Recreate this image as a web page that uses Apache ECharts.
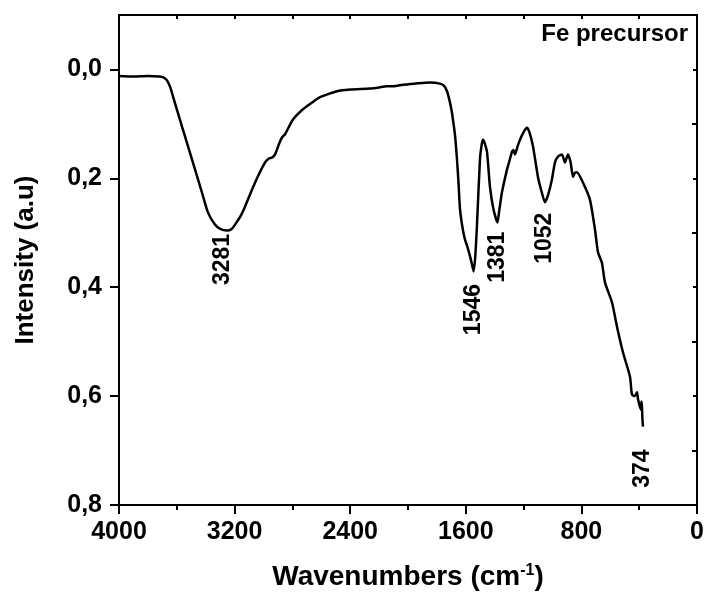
<!DOCTYPE html>
<html>
<head>
<meta charset="utf-8">
<script src="https://cdn.jsdelivr.net/npm/echarts@6/dist/echarts.min.js"></script>
<style>
html,body{margin:0;padding:0;background:#fff;}
#chart{width:707px;height:599px;}
</style>
</head>
<body>
<div id="chart"></div>
<script>
// Wavenumbers (cm-1)
var wavenumbers = [4000,3900,3800,3720,3690,3668,3645,3626,3564,3495,3426,3384,3336,3300,3253,3220,3197,3160,3128,3059,2990,2960,2941,2920,2890,2872,2851,2796,2727,2650,2609,2491,2400,2263,2200,2150,2100,2035,1950,1848,1779,1750,1730,1710,1696,1689,1675,1661,1650,1640,1620,1606,1590,1571,1560,1546,1535,1523,1502,1490,1481,1470,1453,1433,1410,1381,1370,1350,1315,1300,1280,1270,1260,1240,1225,1200,1177,1160,1135,1101,1080,1052,1030,1004,983,962,934,914,893,875,858,845,831,789,741,706,685,658,637,588,554,512,464,450,430,415,408,388,384,381,378,374];
// Intensity (a.u)
var intensity = [0.012,0.013,0.012,0.013,0.015,0.020,0.033,0.050,0.105,0.165,0.226,0.263,0.285,0.293,0.296,0.293,0.285,0.270,0.252,0.208,0.171,0.163,0.162,0.156,0.135,0.125,0.119,0.092,0.073,0.058,0.051,0.040,0.037,0.035,0.033,0.031,0.031,0.028,0.026,0.024,0.026,0.030,0.040,0.060,0.079,0.092,0.120,0.165,0.210,0.257,0.295,0.312,0.325,0.343,0.355,0.371,0.345,0.288,0.165,0.138,0.129,0.135,0.152,0.215,0.255,0.281,0.262,0.226,0.184,0.170,0.151,0.148,0.156,0.140,0.129,0.115,0.107,0.115,0.141,0.197,0.220,0.244,0.230,0.202,0.171,0.160,0.156,0.171,0.156,0.170,0.197,0.190,0.189,0.208,0.239,0.294,0.336,0.355,0.391,0.428,0.472,0.520,0.564,0.597,0.600,0.593,0.606,0.625,0.610,0.619,0.640,0.656];

// Peak annotations
var peakLabels = ['3281','1546','1381','1052','374'];
var peakX = [3281,1546,1381,1052,374];
var peakLabelY = [0.349,0.441,0.345,0.310,0.733];

// Axis ticks
var xTickLabels = [4000,3200,2400,1600,800,0];
var yMajorTicks = [0,0.2,0.4,0.6,0.8];
var yMinorTicks = [0.1,0.3,0.5,0.7];
var yRightTicks = [0,0.1,0.2,0.3,0.4,0.5,0.6,0.7];

var FONT = "'Liberation Sans', Arial, sans-serif";
var lineData = wavenumbers.map(function(w,i){return [w,intensity[i]];});
var peakData = peakX.map(function(w,i){return {value:[w,peakLabelY[i]], name:peakLabels[i]};});

var chart = echarts.init(document.getElementById('chart'), null, {renderer:'canvas'});
var black = '#000';
var option = {
  animation:false,
  backgroundColor:'#fff',
  title:{text:'Fe precursor', right:14, top:17,
    textStyle:{fontFamily:FONT, fontWeight:'bold', fontSize:24, color:black}},
  grid:{left:119, top:15, right:10, bottom:94, containLabel:false},
  xAxis:[{
    type:'value', min:0, max:4000, interval:800, inverse:true, position:'bottom',
    axisLine:{show:true, onZero:false, lineStyle:{color:black, width:2}},
    axisTick:{show:true, length:9, lineStyle:{color:black, width:2}},
    minorTick:{show:true, splitNumber:2, length:5, lineStyle:{color:black, width:2}},
    axisLabel:{fontFamily:FONT, fontWeight:'bold', fontSize:25, color:black, margin:15,
      customValues:xTickLabels, formatter:function(v){return String(v);}},
    splitLine:{show:false}, minorSplitLine:{show:false},
    name:'Wavenumbers (cm{sup|-1})', nameLocation:'middle', nameGap:58,
    nameTextStyle:{fontFamily:FONT, fontWeight:'bold', fontSize:28, color:black,
      rich:{sup:{fontFamily:FONT, fontWeight:'bold', fontSize:16, color:black, verticalAlign:'top', padding:[0,0,12,0]}}}
  },{
    type:'value', min:0, max:4000, interval:400, inverse:true, position:'top',
    axisLine:{show:true, onZero:false, lineStyle:{color:black, width:2}},
    axisTick:{show:true, inside:true, length:4, lineStyle:{color:black, width:2}},
    axisLabel:{show:false}, splitLine:{show:false}
  }],
  yAxis:[{
    type:'value', min:-0.1, max:0.8, interval:0.1, inverse:true, position:'left',
    axisLine:{show:true, onZero:false, lineStyle:{color:black, width:2}},
    axisTick:{show:true, length:9, customValues:yMajorTicks, lineStyle:{color:black, width:2}},
    axisLabel:{fontFamily:FONT, fontWeight:'bold', fontSize:25, color:black, margin:17,
      customValues:yMajorTicks, formatter:function(v){return v.toFixed(1).replace('.',',');}},
    splitLine:{show:false},
    name:'Intensity (a.u)', nameLocation:'middle', nameGap:80,
    nameTextStyle:{fontFamily:FONT, fontWeight:'bold', fontSize:26, color:black}
  },{
    type:'value', min:-0.1, max:0.8, interval:0.1, inverse:true, position:'left',
    axisLine:{show:false},
    axisTick:{show:true, length:5, customValues:yMinorTicks, lineStyle:{color:black, width:2}},
    axisLabel:{show:false}, splitLine:{show:false}
  },{
    type:'value', min:-0.1, max:0.8, interval:0.1, inverse:true, position:'right',
    axisLine:{show:true, onZero:false, lineStyle:{color:black, width:2}},
    axisTick:{show:true, inside:true, length:4, customValues:yRightTicks, lineStyle:{color:black, width:2}},
    axisLabel:{show:false}, splitLine:{show:false}
  }],
  series:[{
    type:'line', xAxisIndex:0, yAxisIndex:0, data:lineData, showSymbol:false, smooth:0.2,
    lineStyle:{color:black, width:2.5}, silent:true
  },{
    type:'scatter', xAxisIndex:0, yAxisIndex:0, data:peakData, symbolSize:0, silent:true,
    itemStyle:{color:black, opacity:1},
    label:{show:true, position:'inside', rotate:90, formatter:'{b}', opacity:1,
      fontFamily:FONT, fontWeight:'bold', fontSize:23, color:'#000',
      textBorderWidth:0, textBorderColor:'transparent'}
  }]
};
chart.setOption(option);
</script>
</body>
</html>
